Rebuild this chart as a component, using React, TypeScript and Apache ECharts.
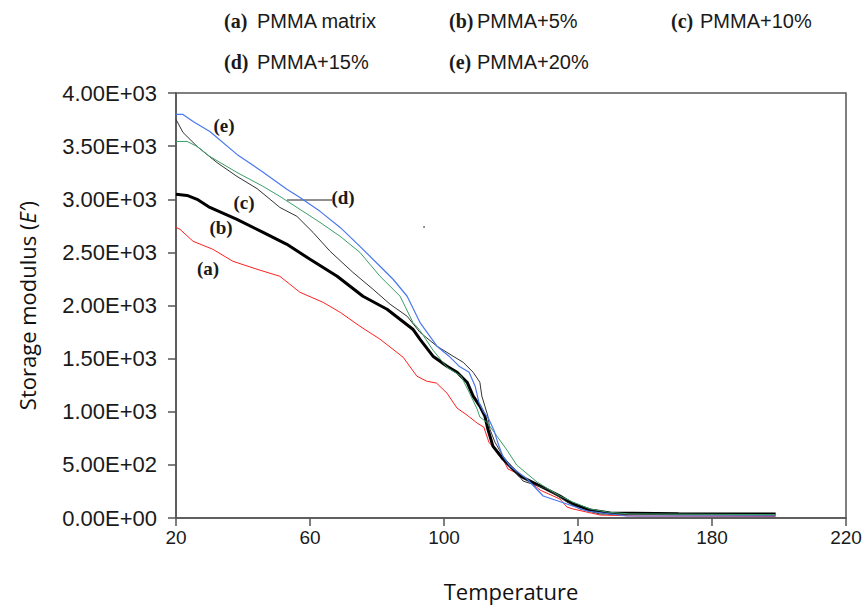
import React, { useEffect, useRef } from "react";
import * as echarts from "echarts";

// Temperature (°C) and storage modulus readings for each curve
const tempA = [20, 21.2, 25.1, 31.0, 37.0, 44.2, 51.0, 57.0, 63.9, 69.0, 74.9, 80.9, 87.8, 91.9, 94.8, 97.8, 100.9, 103.9, 106.9, 109.9, 111.9, 113.4, 115.8, 117.6, 119.1, 123.6, 128.7, 134.6, 136.7, 138.5, 146.6, 157.6, 199];
const modA = [2735, 2717, 2604, 2529, 2416, 2341, 2275, 2124, 2030, 1936, 1805, 1683, 1513, 1335, 1288, 1269, 1175, 1034, 968, 893, 855, 714, 620, 555, 461, 395, 262, 179, 103, 85, 28, 19, 15];

const tempB = [20, 23.3, 26.3, 30.1, 38.2, 46.0, 53.1, 60.0, 68.1, 75.8, 83.0, 90.7, 92.8, 96.7, 100.9, 103.9, 106.9, 108.7, 110.7, 112.2, 113.1, 114.6, 117.6, 122.7, 128.7, 134.6, 138.5, 143.6, 149.6, 170, 199];
const modB = [3046, 3036, 2999, 2923, 2811, 2688, 2576, 2435, 2275, 2087, 1965, 1777, 1683, 1523, 1429, 1372, 1278, 1147, 1053, 959, 836, 677, 555, 395, 301, 207, 132, 75, 47, 40, 38];

const tempC = [20, 22.1, 26.3, 32.2, 38.2, 44.2, 48.1, 51.0, 56.1, 60.9, 66.0, 72.8, 78.8, 83.9, 89.0, 92.8, 97.9, 102.7, 105.7, 108.7, 110.7, 111.3, 112.2, 113.1, 113.7, 115.2, 117.6, 123.6, 130.7, 136.7, 140.6, 146.6, 199];
const modC = [3751, 3628, 3497, 3346, 3215, 3100, 2999, 2923, 2839, 2688, 2510, 2312, 2153, 2012, 1899, 1748, 1617, 1523, 1466, 1372, 1278, 1147, 1053, 959, 836, 714, 583, 348, 273, 150, 85, 38, 30];

const tempD = [20, 23.3, 26.3, 30.1, 38.2, 46.0, 51.0, 57.0, 63.0, 69.0, 74.9, 80.9, 86.9, 90.7, 92.8, 96.7, 100.9, 105.1, 107.5, 109.9, 110.7, 112.8, 115.8, 118.8, 121.7, 127.8, 134.6, 138.5, 143.6, 148.7, 155.5, 199];
const modD = [3544, 3544, 3497, 3403, 3252, 3121, 3027, 2905, 2782, 2651, 2500, 2275, 2087, 1842, 1767, 1580, 1419, 1335, 1184, 1025, 950, 902, 771, 639, 498, 338, 207, 150, 85, 56, 38, 32];

const tempE = [20, 22.1, 25.1, 30.1, 38.2, 46.0, 53.1, 57.0, 63.0, 69.0, 74.9, 80.9, 84.8, 89.0, 92.8, 97.9, 101.5, 104.5, 107.5, 109.3, 110.4, 111.9, 113.4, 114.9, 116.4, 117.6, 119.7, 124.8, 129.6, 136.7, 142.7, 154.6, 198.8];
const modE = [3798, 3798, 3732, 3638, 3422, 3255, 3095, 3017, 2886, 2735, 2557, 2369, 2247, 2087, 1842, 1617, 1523, 1429, 1372, 1241, 1090, 996, 930, 827, 677, 580, 489, 367, 207, 132, 66, 19, 19];

const legendTags = ["(a)", "(b)", "(c)", "(d)", "(e)"];
const legendNames = ["PMMA matrix", "PMMA+5%", "PMMA+10%", "PMMA+15%", "PMMA+20%"];

const zip = (xs: number[], ys: number[]) => xs.map((x, i) => [x, ys[i]]);

const sci = (v: number) => {
  if (v === 0) return "0.00E+00";
  const e = Math.floor(Math.log10(v) + 1e-9);
  const m = v / Math.pow(10, e);
  return m.toFixed(2) + "E+" + String(e).padStart(2, "0");
};

export default function App() {
  const ref = useRef<HTMLDivElement>(null);
  useEffect(() => {
    if (!ref.current) return;
    const chart = echarts.init(ref.current, null, { renderer: "svg" });
    const sans = "'Liberation Sans', Arial, sans-serif";
    const serif = "'Liberation Serif', 'Times New Roman', serif";
    const tagStyle = { fontFamily: serif, fontWeight: "bold", fontSize: 20, fill: "#1a1a1a" };
    const nameStyle = { fontFamily: sans, fontSize: 20, fill: "#1a1a1a" };
    const legendPos = [
      [224, 257, 21],
      [449, 477, 21],
      [671, 700, 21],
      [224, 257, 62],
      [449, 477, 62],
    ];
    const legendGraphics: any[] = [];
    legendPos.forEach((p, i) => {
      legendGraphics.push({
        type: "text", x: p[0], y: p[2],
        style: { ...tagStyle, text: legendTags[i], verticalAlign: "middle" },
      });
      legendGraphics.push({
        type: "text", x: p[1], y: p[2],
        style: { ...nameStyle, text: legendNames[i], verticalAlign: "middle" },
      });
    });
    const annStyle = { fontFamily: serif, fontWeight: "bold", fontSize: 19, fill: "#1a1a1a" };
    const annots = [
      ["(e)", 224, 125],
      ["(d)", 343, 197],
      ["(c)", 244, 202],
      ["(b)", 221, 227],
      ["(a)", 208, 268],
    ];
    const annGraphics = annots.map((a) => ({
      type: "text", x: a[1], y: a[2],
      style: { ...annStyle, text: a[0], align: "center", verticalAlign: "middle" },
    }));

    const mk = (name: string, data: number[][], color: string, width: number) => ({
      name, type: "line", data, showSymbol: false, symbol: "none",
      lineStyle: { color, width }, itemStyle: { color }, z: 2,
    });

    chart.setOption({
      animation: false,
      backgroundColor: "#ffffff",
      grid: { left: 176, right: 21, top: 93, bottom: 88, show: true, borderColor: "#555", borderWidth: 1.5 },
      xAxis: {
        type: "value", min: 20, max: 220, interval: 40,
        name: "Temperature", nameLocation: "middle", nameGap: 62,
        nameTextStyle: { fontFamily: "'Open Sans', 'Noto Sans', sans-serif", fontSize: 22, color: "#111" },
        axisLine: { show: true, lineStyle: { color: "#555", width: 1.5 } },
        axisTick: { show: true, length: 8, inside: false, lineStyle: { color: "#555", width: 1.5 } },
        axisLabel: { fontFamily: sans, fontSize: 19, color: "#1a1a1a", margin: 10 },
        splitLine: { show: false },
      },
      yAxis: {
        type: "value", min: 0, max: 4000, interval: 500,
        name: "{n|Storage modulus (}{i|E′}{n|)}", nameLocation: "middle", nameGap: 138,
        nameTextStyle: {
          rich: {
            n: { fontFamily: "'Open Sans', 'Noto Sans', sans-serif", fontSize: 22, color: "#111" },
            i: { fontFamily: "'Open Sans', 'Noto Sans', sans-serif", fontSize: 22, fontStyle: "italic", color: "#111" },
          },
        },
        axisLine: { show: true, lineStyle: { color: "#555", width: 1.5 } },
        axisTick: { show: true, length: 8, inside: false, lineStyle: { color: "#555", width: 1.5 } },
        axisLabel: { fontFamily: sans, fontSize: 22, color: "#1a1a1a", margin: 19, formatter: (v: number) => sci(v) },
        splitLine: { show: false },
      },
      series: [
        mk("PMMA matrix", zip(tempA, modA), "#ff2020", 1),
        mk("PMMA+5%", zip(tempB, modB), "#000000", 3),
        mk("PMMA+10%", zip(tempC, modC), "#333333", 1),
        mk("PMMA+15%", zip(tempD, modD), "#3a9e68", 1),
        mk("PMMA+20%", zip(tempE, modE), "#4a78f0", 1.2),
      ],
      graphic: [
        ...legendGraphics,
        ...annGraphics,
        { type: "line", shape: { x1: 287, y1: 200, x2: 332, y2: 200 }, style: { stroke: "#222", lineWidth: 1 } },
        { type: "circle", shape: { cx: 424, cy: 227, r: 0.8 }, style: { fill: "#555" } },
      ],
    });
    return () => chart.dispose();
  }, []);
  return <div ref={ref} style={{ position: "fixed", left: 0, top: 0, width: 867, height: 607 }} />;
}
